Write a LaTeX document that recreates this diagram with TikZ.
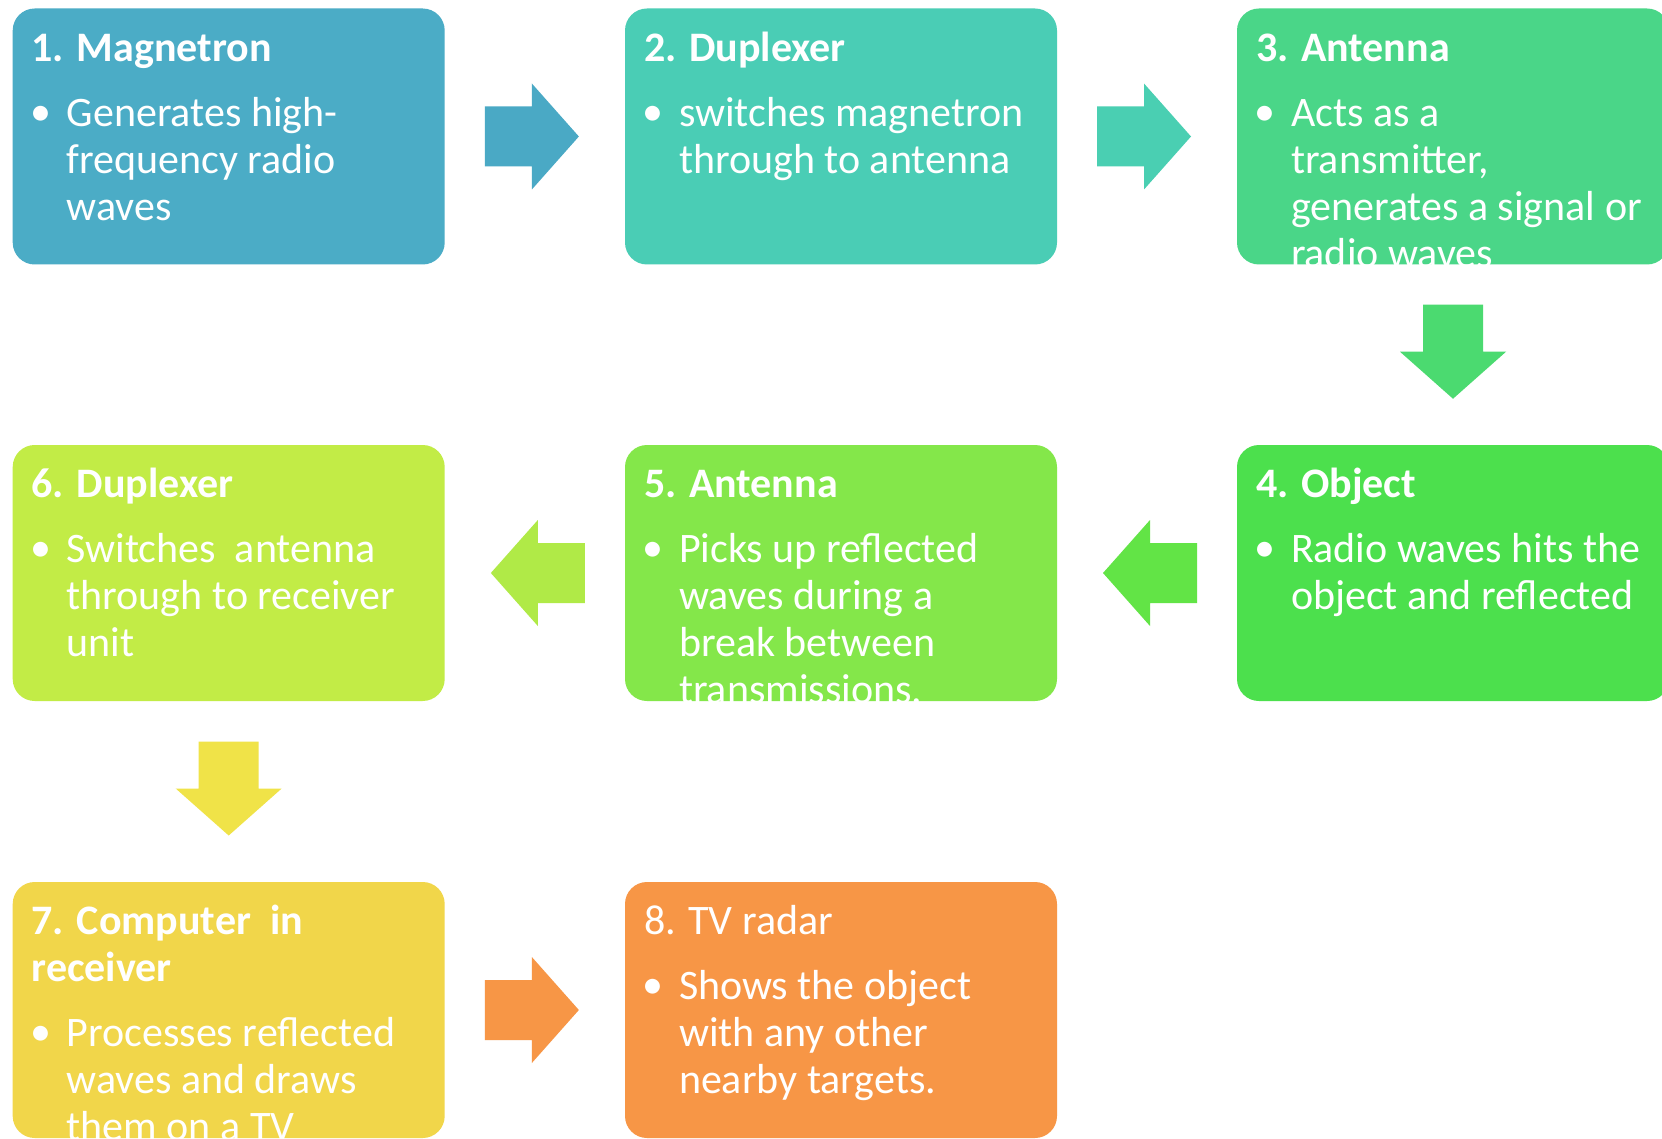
\documentclass[tikz,border=0pt]{standalone}
\usepackage{fontspec}
\setmainfont{Carlito}
\usetikzlibrary{calc}
\definecolor{c1}{HTML}{4BACC6}
\definecolor{c2}{HTML}{4ACDB5}
\definecolor{c3}{HTML}{4AD688}
\definecolor{c4}{HTML}{4CE04D}
\definecolor{c5}{HTML}{84E74A}
\definecolor{c6}{HTML}{C2EC46}
\definecolor{c7}{HTML}{F1D64A}
\definecolor{c8}{HTML}{F79646}
\definecolor{a1}{HTML}{4AA9C5}
\definecolor{a2}{HTML}{4ACFB2}
\definecolor{a3}{HTML}{4BDA70}
\definecolor{a4}{HTML}{62E446}
\definecolor{a5}{HTML}{B0EA47}
\definecolor{a6}{HTML}{F0E348}
\definecolor{a7}{HTML}{F79646}
\newcommand\mlines[1]{\vtop{\baselineskip=47pt\lineskiplimit=-100pt\halign{##\hfil\cr#1\crcr}}}
\newcommand\blockarrow[3]{\fill[#1, shift={#2}, rotate=#3] (-50,-30) -- (-3,-30) -- (-3,-53) -- (44,0) -- (-3,53) -- (-3,30) -- (-50,30) -- cycle;}
\tikzset{
  box/.style={fill=#1, draw=none, rounded corners=22pt, minimum width=432pt, minimum height=256pt, inner sep=0pt},
  ttl/.style={text=white, font=\fontsize{42}{47}\selectfont\bfseries, anchor=base west, inner sep=0pt},
  ttlreg/.style={text=white, font=\fontsize{42}{47}\selectfont, anchor=base west, inner sep=0pt},
  txt/.style={text=white, font=\fontsize{42}{47}\selectfont, anchor=base west, inner sep=0pt},
  bul/.style={text=white, font=\fontsize{42}{47}\selectfont, anchor=base, inner sep=0pt},
}
\begin{document}
\begin{tikzpicture}[x=1pt,y=-1pt]
\useasboundingbox (0,0) rectangle (1662,1139);
\fill[white] (0,0) rectangle (1662,1139);
\clip (0,0) rectangle (1662,1139);
% boxes
\node[box=c1] (b1) at (228.7,136.5) {};
\node[box=c2] (b2) at (841,136.5) {};
\node[box=c3] (b3) at (1453,136.5) {};
\node[box=c4] (b4) at (1453,573) {};
\node[box=c5] (b5) at (841,573) {};
\node[box=c6] (b6) at (228.7,573) {};
\node[box=c7] (b7) at (228.7,1010) {};
\node[box=c8] (b8) at (841,1010) {};
% arrows
\blockarrow{a1}{($(b1.east)!.5!(b2.west)$)}{0}
\blockarrow{a2}{($(b2.east)!.5!(b3.west)$)}{0}
\blockarrow{a3}{($(b3.south)!.5!(b4.north)$)}{-90}
\blockarrow{a4}{($(b4.west)!.5!(b5.east)$)}{180}
\blockarrow{a5}{($(b5.west)!.5!(b6.east)$)}{180}
\blockarrow{a6}{($(b6.south)!.5!(b7.north)$)}{-90}
\blockarrow{a7}{($(b7.east)!.5!(b8.west)$)}{0}
% texts box 1
\node[ttl] (t1) at ($(b1.north west)+(19,53)$) {1. Magnetron};
\node[bul] (u1) at ($(b1.north west)+(28,117)$) {•};
\node[txt] (x1) at ($(b1.north west)+(54,118)$) {\mlines{Generates high-\cr frequency radio\cr waves}};
% box 2
\node[ttl] (t2) at ($(b2.north west)+(19,53)$) {2. Duplexer};
\node[bul] (u2) at ($(b2.north west)+(28,117)$) {•};
\node[txt] (x2) at ($(b2.north west)+(54,118)$) {\mlines{switches magnetron\cr through to antenna}};
% box 3
\begin{scope}
\clip[rounded corners=22pt] (b3.north west) rectangle (b3.south east);
\node[ttl] (t3) at ($(b3.north west)+(19,53)$) {3. Antenna};
\node[bul] (u3) at ($(b3.north west)+(28,117)$) {•};
\node[txt] (x3) at ($(b3.north west)+(54,118)$) {\mlines{Acts as a\cr transmitter,\cr generates a signal or\cr radio waves}};
\end{scope}
% box 4
\node[ttl] (t4) at ($(b4.north west)+(19,53)$) {4. Object};
\node[bul] (u4) at ($(b4.north west)+(28,117)$) {•};
\node[txt] (x4) at ($(b4.north west)+(54,118)$) {\mlines{Radio waves hits the\cr object and reflected}};
% box 5
\begin{scope}
\clip[rounded corners=22pt] (b5.north west) rectangle (b5.south east);
\node[ttl] (t5) at ($(b5.north west)+(19,53)$) {5. Antenna};
\node[bul] (u5) at ($(b5.north west)+(28,117)$) {•};
\node[txt] (x5) at ($(b5.north west)+(54,118)$) {\mlines{Picks up reflected\cr waves during a\cr break between\cr transmissions.}};
\end{scope}
% box 6
\node[ttl] (t6) at ($(b6.north west)+(19,53)$) {6. Duplexer};
\node[bul] (u6) at ($(b6.north west)+(28,117)$) {•};
\node[txt] (x6) at ($(b6.north west)+(54,118)$) {\mlines{Switches\ \ antenna\cr through to receiver\cr unit}};
% box 7
\begin{scope}
\clip[rounded corners=22pt] (b7.north west) rectangle (b7.south east);
\node[ttl] (t7) at ($(b7.north west)+(19,53)$) {\mlines{7. Computer\ \ in\cr receiver}};
\node[bul] (u7) at ($(b7.north west)+(28,164)$) {•};
\node[txt] (x7) at ($(b7.north west)+(54,165)$) {\mlines{Processes reflected\cr waves and draws\cr them on a TV}};
\end{scope}
% box 8
\node[ttlreg] (t8) at ($(b8.north west)+(19,53)$) {8. TV radar};
\node[bul] (u8) at ($(b8.north west)+(28,117)$) {•};
\node[txt] (x8) at ($(b8.north west)+(54,118)$) {\mlines{Shows the object\cr with any other\cr nearby targets.}};
\end{tikzpicture}
\end{document}
